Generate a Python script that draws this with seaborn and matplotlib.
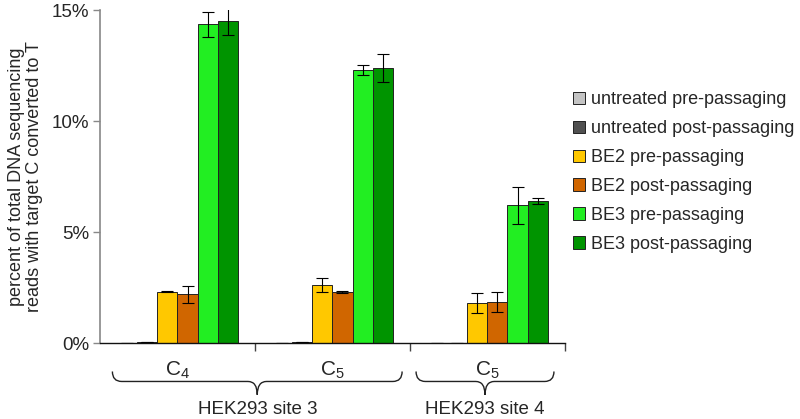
import matplotlib
matplotlib.use("Agg")
import matplotlib.pyplot as plt
from matplotlib.path import Path
from matplotlib.patches import PathPatch
import matplotlib.transforms as mtransforms
import pandas as pd
import seaborn as sns

sns.set_theme(style="white")
plt.rcParams["font.family"] = ["Liberation Sans", "DejaVu Sans"]
plt.rcParams["mathtext.fontset"] = "custom"
plt.rcParams["mathtext.rm"] = "Liberation Sans"

# categories (one per target C)
targets = ["site3_C4", "site3_C5", "site4_C5"]
target_labels = [r"C$_4$", r"C$_5$", r"C$_5$"]
site_labels = ["HEK293 site 3", "HEK293 site 4"]

conditions = [
    "untreated pre-passaging",
    "untreated post-passaging",
    "BE2 pre-passaging",
    "BE2 post-passaging",
    "BE3 pre-passaging",
    "BE3 post-passaging",
]
colors = ["#c4c4c4", "#505050", "#ffc800", "#d06600", "#22ee22", "#009400"]

# percent converted, per condition across targets
untreated_pre = [0.02, 0.02, 0.01]
untreated_post = [0.05, 0.05, 0.01]
be2_pre = [2.32, 2.62, 1.80]
be2_post = [2.20, 2.30, 1.85]
be3_pre = [14.35, 12.30, 6.20]
be3_post = [14.50, 12.40, 6.40]

# error bar half-widths
untreated_pre_err = [0.0, 0.0, 0.0]
untreated_post_err = [0.0, 0.0, 0.0]
be2_pre_err = [0.02, 0.30, 0.45]
be2_post_err = [0.38, 0.06, 0.45]
be3_pre_err = [0.58, 0.22, 0.85]
be3_post_err = [0.62, 0.62, 0.15]

values = [untreated_pre, untreated_post, be2_pre, be2_post, be3_pre, be3_post]
errors = [untreated_pre_err, untreated_post_err, be2_pre_err,
          be2_post_err, be3_pre_err, be3_post_err]

rows = []
for cond, vals in zip(conditions, values):
    for t, v in zip(targets, vals):
        rows.append({"target": t, "condition": cond, "percent": v})
frame = pd.DataFrame(rows)

fig = plt.figure(figsize=(8, 4.19), dpi=100)
ax = fig.add_axes([0.125, 0.181, 0.581, 0.795])

sns.barplot(
    data=frame, x="target", y="percent", hue="condition",
    order=targets, hue_order=conditions, palette=colors,
    width=0.78, errorbar=None, edgecolor="#222222", linewidth=0.7,
    saturation=1, ax=ax,
)

for container, errs in zip(ax.containers, errors):
    xs = [b.get_x() + b.get_width() / 2 for b in container]
    ys = [b.get_height() for b in container]
    ax.errorbar(xs, ys, yerr=errs, fmt="none", ecolor="black",
                elinewidth=0.8, capsize=4, capthick=0.8)

ax.set_ylim(0, 15)
ax.set_xlim(-0.5, 2.5)
ax.set_yticks([0, 5, 10, 15])
ax.set_yticklabels(["0%", "5%", "10%", "15%"], fontsize=13.5)
ax.set_xticks([0.5, 1.5, 2.5])
ax.set_xticklabels([])
ax.set_xlabel("")
ax.set_ylabel("percent of total DNA sequencing\nreads with target C converted to T",
              fontsize=13, labelpad=6, linespacing=1.05)
ax.tick_params(axis="y", direction="out", length=5, color="#888888", width=1, pad=3, left=True)
ax.tick_params(axis="x", direction="out", length=6, color="#444444", width=1, bottom=True)
for s in ["top", "right"]:
    ax.spines[s].set_visible(False)
ax.spines["left"].set_color("#888888")
ax.spines["left"].set_linewidth(1.2)
ax.spines["bottom"].set_color("#111111")
ax.spines["bottom"].set_linewidth(1.0)

# target labels and braces below the axis
trans = mtransforms.blended_transform_factory(ax.transData, ax.transAxes)
for i, lab in enumerate(target_labels):
    ax.text(i, -0.082, lab, transform=trans, ha="center", va="center",
            fontsize=15, clip_on=False)


def brace(x0, x1, ytop=-0.085, ymid=-0.115, ybot=-0.155, r=0.06):
    xc = (x0 + x1) / 2
    verts = [
        (x0, ytop), (x0, ymid), (x0 + r, ymid),
        (xc - r, ymid), (xc, ymid), (xc, ybot),
        (xc, ymid), (xc + r, ymid),
        (x1 - r, ymid), (x1, ymid), (x1, ytop),
    ]
    codes = [
        Path.MOVETO, Path.CURVE3, Path.CURVE3,
        Path.LINETO, Path.CURVE3, Path.CURVE3,
        Path.CURVE3, Path.CURVE3,
        Path.LINETO, Path.CURVE3, Path.CURVE3,
    ]
    patch = PathPatch(Path(verts, codes), transform=trans, fill=False,
                      edgecolor="#222222", linewidth=1.0, clip_on=False)
    ax.add_patch(patch)


brace(-0.42, 1.45)
brace(1.54, 2.43)

ax.text(0.515, -0.2, site_labels[0], transform=trans, ha="center", va="center",
        fontsize=13.5, clip_on=False)
ax.text(1.985, -0.2, site_labels[1], transform=trans, ha="center", va="center",
        fontsize=13.5, clip_on=False)

ax.legend(
    loc="upper left", bbox_to_anchor=(0.716, 0.782), bbox_transform=fig.transFigure,
    frameon=False, fontsize=13, handlelength=0.7, handleheight=0.7,
    handletextpad=0.3, labelspacing=0.66, borderpad=0, borderaxespad=0,
)

fig.savefig("out.png", dpi=100)
